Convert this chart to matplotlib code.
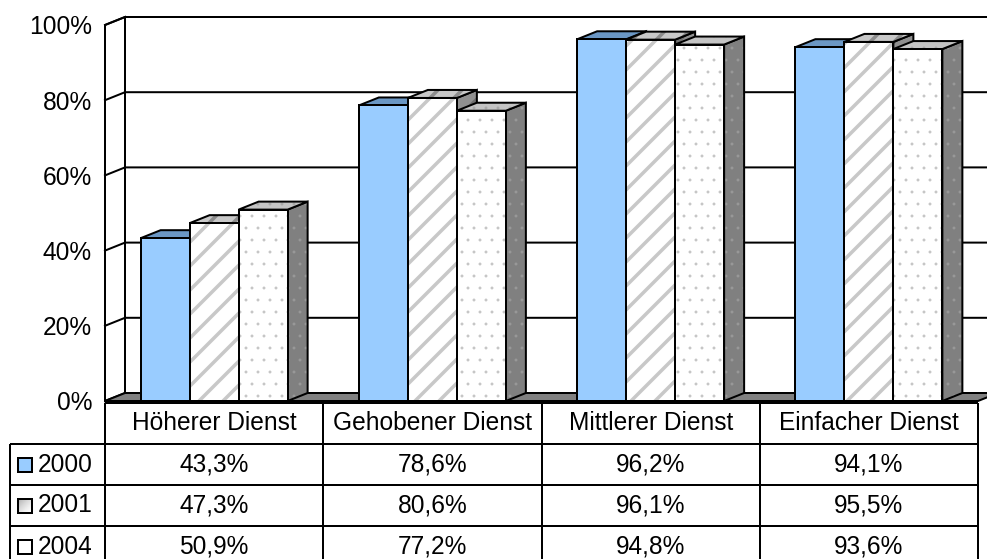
import numpy as np
import matplotlib.pyplot as plt
from matplotlib.patches import Polygon, Rectangle

categories = ['Höherer Dienst', 'Gehobener Dienst', 'Mittlerer Dienst', 'Einfacher Dienst']
years = ['2000', '2001', '2004']
values_2000 = [43.3, 78.6, 96.2, 94.1]
values_2001 = [47.3, 80.6, 96.1, 95.5]
values_2004 = [50.9, 77.2, 94.8, 93.6]
yticks = [0, 20, 40, 60, 80, 100]

plt.rcParams['font.family'] = ['Liberation Sans', 'DejaVu Sans']
plt.rcParams['hatch.linewidth'] = 3.5

DPI = 72
W, H = 987, 559
FS = 24.5
LW = 2.0

fig = plt.figure(figsize=(W / DPI, H / DPI), dpi=DPI)
ax = fig.add_axes([105 / W, 158 / H, 873 / W, 376 / H])
ax.set_xlim(0, 4)
ax.set_ylim(0, 100)
for s in ax.spines.values():
    s.set_visible(False)
ax.set_xticks([])
ax.set_yticks(yticks, [f'{t}%' for t in yticks])
ax.tick_params(axis='y', length=0, pad=13, labelsize=FS)

# depth of the 3d look, in data units
ddx = 20 / 873 * 4
ddy = 8 / 376 * 100


def face(verts, fc, hatch=None, hc=None, z=1, hlw=None):
    """filled (maybe hatched) polygon plus a black outline"""
    with plt.rc_context({'hatch.linewidth': hlw or 1.0}):
        p = Polygon(verts, closed=True, facecolor=fc, edgecolor=hc or fc,
                    linewidth=0, hatch=hatch, zorder=z, clip_on=False)
    ax.add_patch(p)
    ax.add_patch(Polygon(verts, closed=True, fill=False, edgecolor='black',
                         linewidth=LW, joinstyle='miter', zorder=z + 0.01,
                         clip_on=False))


# back wall, left wall and floor
face([(ddx, ddy), (4 + ddx, ddy), (4 + ddx, 100 + ddy), (ddx, 100 + ddy)], 'white', z=0.5)
face([(0, 0), (ddx, ddy), (ddx, 100 + ddy), (0, 100)], 'white', z=0.6)
for t in yticks[1:]:
    ax.plot([0, ddx, 4 + ddx], [t, t + ddy, t + ddy], color='black', lw=LW,
            zorder=0.8, clip_on=False)
face([(0, 0), (4, 0), (4 + ddx, ddy), (ddx, ddy)], '#808080', z=1)

# bars
series = [values_2000, values_2001, values_2004]
styles = [
    dict(front='#99CCFF', fh=None, fhc=None, top='#6B97C4', th=None, thc=None,
         side='#4F7BA6', sh=None, shc=None, hlw=None),
    dict(front='white', fh='/', fhc='#C8C8C8', top='#C8C8C8', th='/', thc='#8C8C8C',
         side='#909090', sh='/', shc='#6E6E6E', hlw=3.5),
    dict(front='white', fh='.', fhc='#C4C4C4', top='#C4C4C4', th='.', thc='#A8A8A8',
         side='#808080', sh='.', shc='#9A9A9A', hlw=0.4),
]
w = 49 / 873 * 4
idx = np.arange(len(categories))
for j, (vals, st) in enumerate(zip(series, styles)):
    x = idx + 0.5 - 1.5 * w + j * w
    z = 3 + j
    with plt.rc_context({'hatch.linewidth': st['hlw'] or 1.0}):
        ax.bar(x, vals, width=w, align='edge', color=st['front'],
               edgecolor=st['fhc'] or st['front'], linewidth=0,
               hatch=st['fh'], zorder=z + 0.5)
    ax.bar(x, vals, width=w, align='edge', fill=False, edgecolor='black',
           linewidth=LW, zorder=z + 0.51)
    for xi, v in zip(x, vals):
        face([(xi, v), (xi + w, v), (xi + w + ddx, v + ddy), (xi + ddx, v + ddy)],
             st['top'], st['th'], st['thc'], z=z + 0.2, hlw=st['hlw'])
        face([(xi + w, 0), (xi + w + ddx, ddy), (xi + w + ddx, v + ddy), (xi + w, v)],
             st['side'], st['sh'], st['shc'], z=z + 0.1, hlw=st['hlw'])

# data table below the chart
tab = fig.add_axes([105 / W, -8 / H, 873 / W, 164 / H])
tab.set_xlim(0, 4)
tab.set_ylim(4, 0)
tab.axis('off')
px = 4 / 873  # one pixel in table x units
left = -95 * px
kw = dict(colors='black', linewidth=LW, clip_on=False)
tab.hlines(0, 0, 4, **kw)
tab.hlines([1, 2, 3, 4], left, 4, **kw)
tab.vlines(np.arange(5), 0, 4, **kw)
tab.vlines(left, 1, 4, **kw)

for i, c in enumerate(categories):
    tab.text(i + 0.5, 0.5, c, ha='center', va='center', fontsize=FS)
for r, vals in enumerate(series):
    for i, v in enumerate(vals):
        tab.text(i + 0.5, r + 1.5, f'{v:.1f}%'.replace('.', ','),
                 ha='center', va='center', fontsize=FS)
    tab.text(left + 28 * px, r + 1.5, years[r], ha='left', va='center',
             fontsize=FS)

# legend keys in the table
kx = left + 8 * px
kwid = 14 * px
kh = 14 / 41
key_fc = ['#99CCFF', 'none', 'white']
for r, fc in enumerate(key_fc):
    y0 = r + 1.5 - kh / 2
    if r == 1:
        # light gray in the top-left corner fading to white
        grad = 2 - np.add.outer(np.linspace(0, 1, 20), np.linspace(0, 1, 20))
        tab.imshow(grad, extent=[kx, kx + kwid, y0 + kh, y0], cmap='Greys',
                   vmin=0, vmax=4.5, aspect='auto', zorder=2, clip_on=False)
    tab.add_patch(Rectangle((kx, y0), kwid, kh, facecolor=fc,
                            edgecolor='black', linewidth=LW, zorder=3,
                            clip_on=False))
tab.set_xlim(0, 4)
tab.set_ylim(4, 0)

fig.savefig('out.png', dpi=DPI)
